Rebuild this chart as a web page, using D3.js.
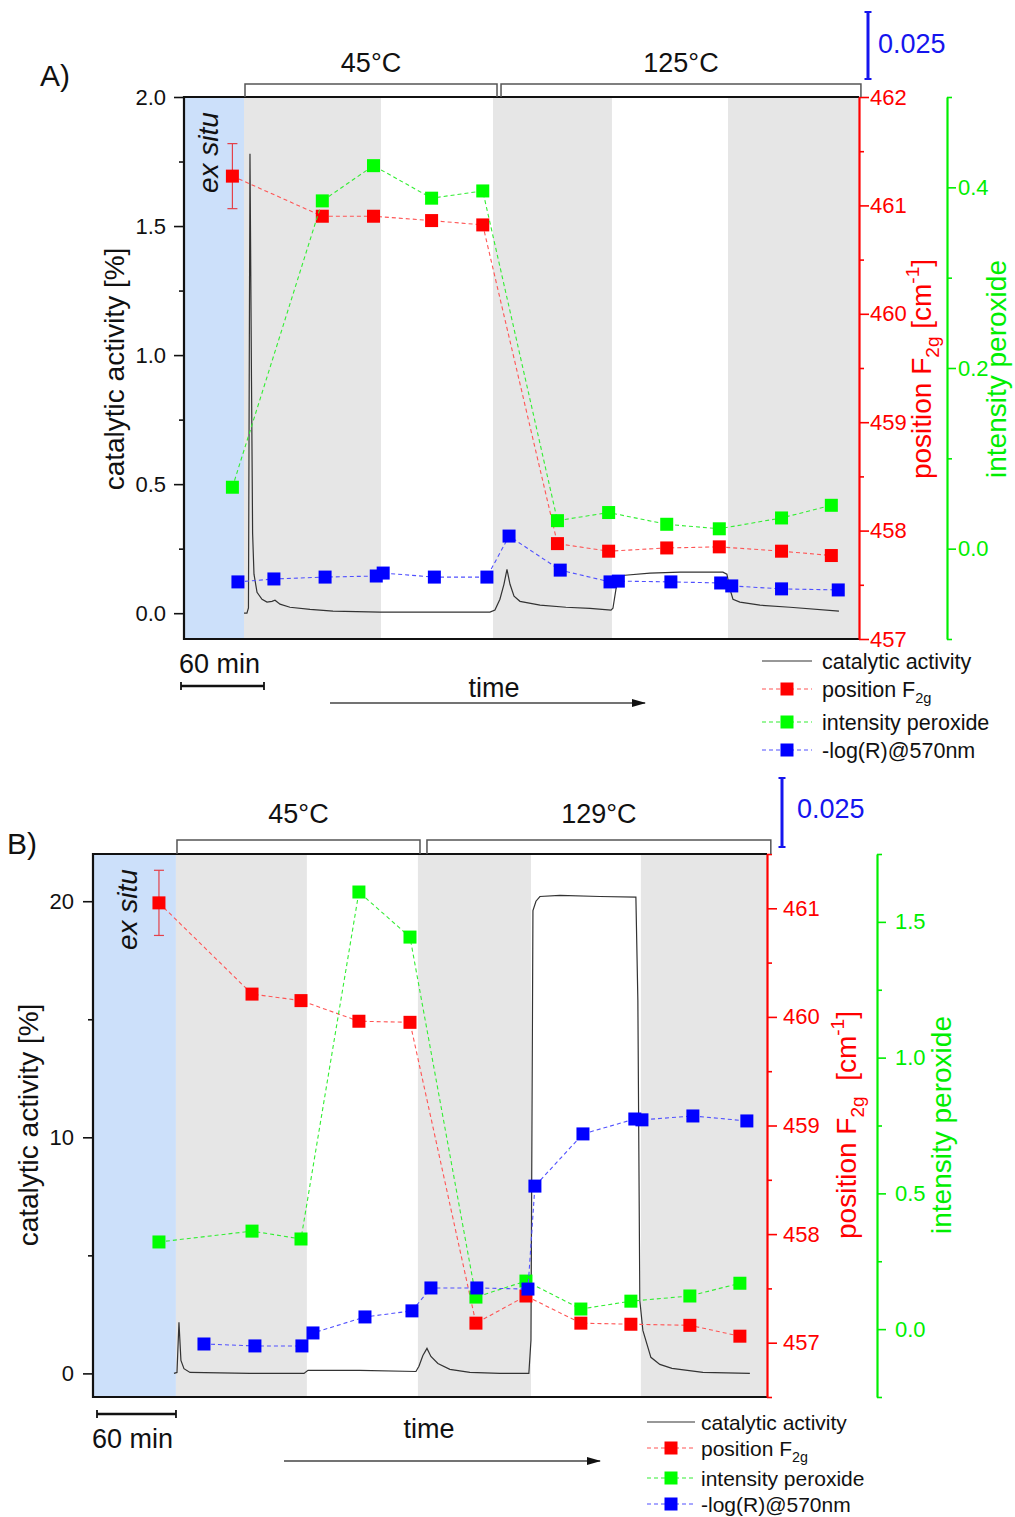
<!DOCTYPE html>
<html>
<head>
<meta charset="utf-8">
<script src="https://cdn.jsdelivr.net/npm/d3@7"></script>
<style>
  body { margin: 0; background: #fff; }
  text { font-family: "Liberation Sans", Arial, Helvetica, sans-serif; }
</style>
</head>
<body>
<svg id="chart" width="1015" height="1517"></svg>
<script>
// ---------- panel A data (time in minutes) ----------
var aPhaseEdges = [0, 43.4, 142.4, 223.4, 309.4, 393.3, 488];
var aPhaseKinds = ["exsitu", "gray", "white", "gray", "white", "gray"];
var aTempLabels = ["45°C", "125°C"];
var aTempFrom = [44.1, 229.2];
var aTempTo = [226.3, 489.4];

var aCatTime = [43.4, 45.5, 46.6, 47.7, 48.8, 49.6, 50.6, 52.8, 56.4, 60.0,
                63.6, 65.8, 69.4, 76.6, 91.1, 107.7, 141.7, 177.8, 221.2, 224.8,
                228.4, 231.3, 233.5, 235.7, 238.6, 242.9, 257.4, 276.1, 293.5, 308.7,
                310.1, 312.3, 314.5, 318.8, 336.9, 358.6, 389.6, 392.5, 394.7, 396.9,
                401.9, 416.4, 438.1, 473.5];
var aCatValue = [0, 0, 0.02, 1.78, 0.9, 0.31, 0.151, 0.081, 0.054, 0.043,
                 0.046, 0.050, 0.035, 0.023, 0.015, 0.008, 0.004, 0.004, 0.004, 0.012,
                 0.054, 0.112, 0.170, 0.112, 0.066, 0.046, 0.031, 0.023, 0.019, 0.012,
                 0.019, 0.093, 0.139, 0.147, 0.155, 0.159, 0.159, 0.151, 0.093, 0.054,
                 0.043, 0.031, 0.023, 0.008];

var aRamanTime = [35, 100, 137, 179, 216, 270, 307, 349, 387, 432, 468];
var aPosValue = [461.27, 460.90, 460.90, 460.86, 460.82, 457.88, 457.81, 457.84, 457.85, 457.81, 457.77];
var aPosErr = 0.30;
var aPerValue = [0.068, 0.385, 0.424, 0.388, 0.396, 0.031, 0.040, 0.027, 0.022, 0.034, 0.048];

var aLogTime = [39, 65, 102, 139, 144, 181, 219, 235, 272, 308, 314, 352, 388, 396, 432, 473];
var aLogValue = [0.0213, 0.0224, 0.0231, 0.0235, 0.0246, 0.0231, 0.0231, 0.0384, 0.0257, 0.0213,
                 0.0216, 0.0213, 0.0209, 0.0198, 0.0187, 0.0183];

// ---------- panel B data ----------
var bPhaseEdges = [0, 63.0, 162.5, 246.8, 332.7, 416.2, 512];
var bPhaseKinds = ["exsitu", "gray", "white", "gray", "white", "gray"];
var bTempLabels = ["45°C", "129°C"];
var bTempFrom = [63.8, 253.7];
var bTempTo = [248.4, 514.9];

var bCatTime = [61.5, 63.8, 65.3, 66.8, 69.1, 73.7, 119.2, 160.3, 163.3, 202.8,
                245.3, 247.6, 250.6, 253.7, 256.7, 262.0, 271.1, 286.3, 309.1, 331.1,
                332.7, 334.2, 336.5, 339.5, 354.7, 385.1, 412.4, 413.9, 415.4, 417.7,
                423.8, 430.6, 439.8, 463.3, 499.0];
var bCatValue = [0, 0.04, 2.16, 0.55, 0.2, 0.04, 0, 0, 0.13, 0.13,
                 0.08, 0.30, 0.76, 1.06, 0.72, 0.42, 0.17, 0.04, 0, 0,
                 1.40, 19.6, 20.0, 20.2, 20.25, 20.2, 20.17, 15.8, 3.09, 1.82,
                 0.68, 0.38, 0.21, 0.04, 0];

var bRamanTime = [50.1, 120.8, 158.0, 202.0, 240.8, 290.9, 328.9, 370.6, 408.6, 453.4, 491.4];
var bPosValue = [461.05, 460.21, 460.15, 459.96, 459.95, 457.18, 457.43, 457.18, 457.17, 457.16, 457.06];
var bPosErr = 0.30;
var bPerValue = [0.321, 0.361, 0.332, 1.610, 1.444, 0.118, 0.177, 0.074, 0.103, 0.122, 0.169];

var bLogTime = [84.3, 123.0, 158.7, 167.1, 206.6, 242.3, 256.7, 291.6, 330.4, 335.7, 372.2, 411.6, 417.0, 455.7, 496.7];
var bLogValue = [0.0192, 0.0185, 0.0185, 0.0232, 0.0290, 0.0312, 0.0395, 0.0395, 0.0391, 0.0764,
                 0.0953, 0.1007, 0.1004, 0.1018, 0.1000];

var legendLabels = ["catalytic activity", "position F", "intensity peroxide", "-log(R)@570nm"];

// ---------- styles ----------
var phaseFill = { exsitu: "#cce0fa", gray: "#e6e6e6", white: "#ffffff" };
var RED = "#ff0000", GREEN = "#00ee00", BLUE = "#1515ee";

var svg = d3.select("#chart");

svg.append("defs").append("marker")
    .attr("id", "arrow")
    .attr("viewBox", "0 0 14 10")
    .attr("refX", 13).attr("refY", 5)
    .attr("markerWidth", 14).attr("markerHeight", 10)
    .attr("markerUnits", "userSpaceOnUse")
    .attr("orient", "auto")
  .append("path")
    .attr("d", "M0,1 L14,5 L0,9 Z")
    .attr("fill", "#111");

// rotated (-90deg) text made of parts; parts: [text, "sub"|"sup"|null]
function rotText(g, x, y, size, color, parts, anchor, italic) {
  var t = g.append("text")
      .attr("transform", "translate(" + x + "," + y + ") rotate(-90)")
      .attr("text-anchor", anchor || "middle")
      .attr("font-size", size)
      .attr("fill", color)
      .style("white-space", "pre");
  if (italic) t.attr("font-style", "italic");
  addParts(t, size, parts);
  return t;
}

function addParts(t, size, parts) {
  var shift = 0;
  parts.forEach(function(pt) {
    var target = pt[1] === "sub" ? 0.3 * size : pt[1] === "sup" ? -0.42 * size : 0;
    t.append("tspan")
        .attr("dy", target - shift)
        .attr("font-size", pt[1] ? size * 0.68 : size)
        .text(pt[0]);
    shift = target;
  });
}

function drawPanel(p, s) {
  var g = svg.append("g");

  var x = d3.scaleLinear().domain([0, p.tMax]).range([p.left, p.right]);
  var yCat = d3.scaleLinear().domain(p.catDomain).range([p.bottom, p.top]);
  var yPos = d3.scaleLinear().domain(p.posDomain).range([p.bottom, p.top]);
  var yPer = d3.scaleLinear().domain(p.perDomain).range([p.bottom, p.top]);
  var yLog = d3.scaleLinear().domain(p.logDomain).range([p.bottom, p.top]);

  // phase shading
  var phases = d3.pairs(s.phaseEdges).map(function(e, i) {
    return { from: e[0], to: e[1], kind: s.phaseKinds[i] };
  });
  g.append("g").selectAll("rect").data(phases).join("rect")
      .attr("x", function(d) { return x(d.from); })
      .attr("y", p.top)
      .attr("width", function(d) { return x(d.to) - x(d.from); })
      .attr("height", p.bottom - p.top)
      .attr("fill", function(d) { return phaseFill[d.kind]; });

  // ex situ label
  rotText(g, p.exX, p.exY, 28, "#111", [["ex situ", null]], "start", true);

  // catalytic activity trace
  var cat = s.catTime.map(function(t, i) { return [t, s.catValue[i]]; });
  g.append("path")
      .datum(cat)
      .attr("fill", "none")
      .attr("stroke", "#333")
      .attr("stroke-width", 1.2)
      .attr("d", d3.line().x(function(d) { return x(d[0]); }).y(function(d) { return yCat(d[1]); }));

  // error bar on ex situ position
  var ex = x(s.ramanTime[0]);
  var eTop = yPos(s.posValue[0] + s.posErr), eBot = yPos(s.posValue[0] - s.posErr);
  var eb = g.append("g").attr("stroke", "#e4414a").attr("stroke-width", 1.2);
  eb.append("line").attr("x1", ex).attr("x2", ex).attr("y1", eTop).attr("y2", eBot);
  eb.append("line").attr("x1", ex - 5).attr("x2", ex + 5).attr("y1", eTop).attr("y2", eTop);
  eb.append("line").attr("x1", ex - 5).attr("x2", ex + 5).attr("y1", eBot).attr("y2", eBot);

  var series = [
    { t: s.ramanTime, v: s.posValue, y: yPos, line: "#ff5555", fill: "#ff0000" },
    { t: s.ramanTime, v: s.perValue, y: yPer, line: "#33ee33", fill: "#00ff00" },
    { t: s.logTime, v: s.logValue, y: yLog, line: "#5050ff", fill: "#0000ff" }
  ];
  series.forEach(function(se) {
    var pts = se.t.map(function(t, i) { return [t, se.v[i]]; });
    g.append("path")
        .datum(pts)
        .attr("fill", "none")
        .attr("stroke", se.line)
        .attr("stroke-width", 1.1)
        .attr("stroke-dasharray", "4,3")
        .attr("d", d3.line().x(function(d) { return x(d[0]); }).y(function(d) { return se.y(d[1]); }));
    g.append("g").selectAll("rect").data(pts).join("rect")
        .attr("x", function(d) { return x(d[0]) - 6.5; })
        .attr("y", function(d) { return se.y(d[1]) - 6.5; })
        .attr("width", 13).attr("height", 13)
        .attr("fill", se.fill);
  });

  // frame (left, top, bottom)
  g.append("path")
      .attr("d", "M" + p.right + "," + p.top + "H" + p.left + "V" + p.bottom + "H" + p.right)
      .attr("fill", "none")
      .attr("stroke", "#111")
      .attr("stroke-width", 2.2);

  function styleAxis(sel, color, fmtSize) {
    sel.selectAll(".tick line").attr("stroke", color).attr("stroke-width", 1.6);
    sel.selectAll(".tick text").attr("fill", color).attr("font-size", fmtSize)
        .style("font-family", '"Liberation Sans", Arial, sans-serif');
  }

  // left axis
  var la = g.append("g").attr("transform", "translate(" + p.left + ",0)");
  la.call(d3.axisLeft(yCat).tickValues(p.catMajor).tickFormat(d3.format(p.catFmt))
      .tickSize(10).tickPadding(p.catPad).tickSizeOuter(0))
    .call(function(a) { a.select(".domain").remove(); });
  styleAxis(la, "#111", 22);
  var lm = g.append("g").attr("transform", "translate(" + p.left + ",0)");
  lm.call(d3.axisLeft(yCat).tickValues(p.catMinor).tickFormat("").tickSize(5).tickSizeOuter(0))
    .call(function(a) { a.select(".domain").remove(); });
  styleAxis(lm, "#111", 22);

  // red axis
  var ra = g.append("g").attr("transform", "translate(" + p.right + ",0)");
  ra.call(d3.axisRight(yPos).tickValues(p.posMajor).tickFormat(d3.format("d"))
      .tickSize(10).tickPadding(p.posPad).tickSizeOuter(0));
  ra.select(".domain").attr("stroke", RED).attr("stroke-width", 2.2);
  styleAxis(ra, RED, 22);
  var rm = g.append("g").attr("transform", "translate(" + p.right + ",0)");
  rm.call(d3.axisRight(yPos).tickValues(p.posMinor).tickFormat("").tickSize(5).tickSizeOuter(0))
    .call(function(a) { a.select(".domain").remove(); });
  styleAxis(rm, RED, 22);

  // green axis
  var ga = g.append("g").attr("transform", "translate(" + p.greenX + ",0)");
  ga.call(d3.axisRight(yPer).tickValues(p.perMajor).tickFormat(d3.format(".1f"))
      .tickSize(9).tickPadding(p.perPad).tickSizeOuter(0));
  ga.select(".domain").attr("stroke", GREEN).attr("stroke-width", 2.2);
  styleAxis(ga, GREEN, 22);
  var gm = g.append("g").attr("transform", "translate(" + p.greenX + ",0)");
  gm.call(d3.axisRight(yPer).tickValues(p.perMinor).tickFormat("").tickSize(5).tickSizeOuter(0))
    .call(function(a) { a.select(".domain").remove(); });
  styleAxis(gm, GREEN, 22);

  // axis titles
  rotText(g, p.catTitleX, p.titleY, 28, "#111", [["catalytic activity [%]", null]]);
  rotText(g, p.posTitleX, p.titleY, 28, RED,
    [["position F", null], ["2g", "sub"], [p.posGap + "[cm", null], ["-1", "sup"], ["]", null]]);
  rotText(g, p.perTitleX, p.titleY, 28, GREEN, [["intensity peroxide", null]]);

  // temperature brackets
  s.tempLabels.forEach(function(lbl, i) {
    var x0 = x(s.tempFrom[i]), x1 = x(s.tempTo[i]);
    g.append("path")
        .attr("d", "M" + x0 + "," + p.top + "V" + p.bracketY + "H" + x1 + "V" + p.top)
        .attr("fill", "none").attr("stroke", "#555").attr("stroke-width", 1.5);
    g.append("text")
        .attr("x", (x0 + x1) / 2).attr("y", p.tempY)
        .attr("text-anchor", "middle").attr("font-size", 27).attr("fill", "#111")
        .text(lbl);
  });

  // panel letter
  g.append("text").attr("x", p.letterX).attr("y", p.letterY)
      .attr("font-size", 30).attr("fill", "#111").text(p.letter);

  // -log(R) scale bar
  var barLen = yLog(0) - yLog(0.025);
  var sb = g.append("g").attr("stroke", BLUE).attr("stroke-width", 3);
  sb.append("line").attr("x1", p.barX).attr("x2", p.barX).attr("y1", p.barBottom).attr("y2", p.barBottom - barLen);
  sb.append("line").attr("x1", p.barX - 3.5).attr("x2", p.barX + 3.5).attr("y1", p.barBottom).attr("y2", p.barBottom).attr("stroke-width", 2);
  sb.append("line").attr("x1", p.barX - 3.5).attr("x2", p.barX + 3.5).attr("y1", p.barBottom - barLen).attr("y2", p.barBottom - barLen).attr("stroke-width", 2);
  g.append("text").attr("x", p.barTextX).attr("y", p.barTextY)
      .attr("font-size", 27).attr("fill", BLUE).text("0.025");

  // 60 min bar
  var mLen = x(60) - x(0);
  var mb = g.append("g").attr("stroke", "#111").attr("stroke-width", 2.5);
  mb.append("line").attr("x1", p.minBarX).attr("x2", p.minBarX + mLen).attr("y1", p.minBarY).attr("y2", p.minBarY);
  mb.append("line").attr("x1", p.minBarX).attr("x2", p.minBarX).attr("y1", p.minBarY - 4).attr("y2", p.minBarY + 4).attr("stroke-width", 1.8);
  mb.append("line").attr("x1", p.minBarX + mLen).attr("x2", p.minBarX + mLen).attr("y1", p.minBarY - 4).attr("y2", p.minBarY + 4).attr("stroke-width", 1.8);
  g.append("text").attr("x", p.minTextX).attr("y", p.minTextY)
      .attr("font-size", 27).attr("fill", "#111").text("60 min");

  // time arrow
  g.append("text").attr("x", p.timeX).attr("y", p.timeY)
      .attr("text-anchor", "middle").attr("font-size", 27).attr("fill", "#111").text("time");
  g.append("line")
      .attr("x1", p.arrowX0).attr("x2", p.arrowX1).attr("y1", p.arrowY).attr("y2", p.arrowY)
      .attr("stroke", "#444").attr("stroke-width", 1.5)
      .attr("marker-end", "url(#arrow)");

  // legend
  var lg = g.append("g");
  var legendStyles = [
    { stroke: "#333", dash: null, fill: null },
    { stroke: "#ff5555", dash: "4,3", fill: "#ff0000" },
    { stroke: "#33ee33", dash: "4,3", fill: "#00ff00" },
    { stroke: "#5050ff", dash: "4,3", fill: "#0000ff" }
  ];
  legendLabels.forEach(function(lbl, i) {
    var ry = p.legRows[i], st = legendStyles[i];
    lg.append("line").attr("x1", p.legX0).attr("x2", p.legX1).attr("y1", ry).attr("y2", ry)
        .attr("stroke", st.stroke).attr("stroke-width", 1.2)
        .attr("stroke-dasharray", st.dash);
    if (st.fill) {
      lg.append("rect").attr("x", (p.legX0 + p.legX1) / 2 - 6.5).attr("y", ry - 6.5)
          .attr("width", 13).attr("height", 13).attr("fill", st.fill);
    }
    var t = lg.append("text").attr("x", p.legTextX).attr("y", ry + p.legSize * 0.36)
        .attr("font-size", p.legSize).attr("fill", "#111");
    if (i === 1) addParts(t, p.legSize, [[lbl, null], ["2g", "sub"]]);
    else t.text(lbl);
  });
}

drawPanel({
  letter: "A)", letterX: 40, letterY: 86,
  left: 184, right: 859, top: 97, bottom: 639, greenX: 947, tMax: 488,
  catDomain: [-0.1, 2.0], catMajor: [0, 0.5, 1, 1.5, 2], catMinor: [0.25, 0.75, 1.25, 1.75], catFmt: ".1f", catPad: 8,
  posDomain: [457, 462], posMajor: [457, 458, 459, 460, 461, 462], posMinor: [457.5, 458.5, 459.5, 460.5, 461.5], posPad: 1,
  perDomain: [-0.1, 0.5], perMajor: [0, 0.2, 0.4], perMinor: [-0.1, 0.1, 0.3, 0.5], perPad: 2,
  logDomain: [0, 0.2022],
  exX: 218, exY: 193,
  catTitleX: 124, posTitleX: 931, perTitleX: 1006, titleY: 369, posGap: " ",
  bracketY: 84, tempY: 72,
  barX: 868, barBottom: 79, barTextX: 878, barTextY: 53,
  minBarX: 181, minBarY: 686, minTextX: 179, minTextY: 673,
  timeX: 494, timeY: 697, arrowX0: 330, arrowX1: 645, arrowY: 703,
  legX0: 762, legX1: 812, legTextX: 822, legRows: [661, 689, 722, 750], legSize: 21.5
}, {
  phaseEdges: aPhaseEdges, phaseKinds: aPhaseKinds,
  tempLabels: aTempLabels, tempFrom: aTempFrom, tempTo: aTempTo,
  catTime: aCatTime, catValue: aCatValue,
  ramanTime: aRamanTime, posValue: aPosValue, posErr: aPosErr, perValue: aPerValue,
  logTime: aLogTime, logValue: aLogValue
});

drawPanel({
  letter: "B)", letterX: 7, letterY: 854,
  left: 93, right: 767, top: 854, bottom: 1397, greenX: 877, tMax: 512,
  catDomain: [-1, 22], catMajor: [0, 10, 20], catMinor: [5, 15], catFmt: "d", catPad: 9,
  posDomain: [456.5, 461.5], posMajor: [457, 458, 459, 460, 461], posMinor: [456.5, 457.5, 458.5, 459.5, 460.5, 461.5], posPad: 6,
  perDomain: [-0.25, 1.75], perMajor: [0, 0.5, 1, 1.5], perMinor: [-0.25, 0.25, 0.75, 1.25, 1.75], perPad: 9,
  logDomain: [0, 0.1967],
  exX: 137, exY: 950,
  catTitleX: 38, posTitleX: 856, perTitleX: 951, titleY: 1125, posGap: "  ",
  bracketY: 840, tempY: 823,
  barX: 782, barBottom: 847, barTextX: 797, barTextY: 818,
  minBarX: 97, minBarY: 1414, minTextX: 92, minTextY: 1448,
  timeX: 429, timeY: 1438, arrowX0: 284, arrowX1: 600, arrowY: 1461,
  legX0: 647, legX1: 695, legTextX: 701, legRows: [1422, 1448, 1478, 1504], legSize: 21
}, {
  phaseEdges: bPhaseEdges, phaseKinds: bPhaseKinds,
  tempLabels: bTempLabels, tempFrom: bTempFrom, tempTo: bTempTo,
  catTime: bCatTime, catValue: bCatValue,
  ramanTime: bRamanTime, posValue: bPosValue, posErr: bPosErr, perValue: bPerValue,
  logTime: bLogTime, logValue: bLogValue
});
</script>
</body>
</html>
